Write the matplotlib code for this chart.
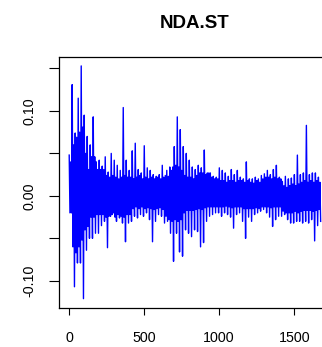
import numpy as np
import matplotlib
matplotlib.use("Agg")
import matplotlib.pyplot as plt

plt.rcParams['font.family'] = ['Liberation Sans', 'DejaVu Sans']

title = "NDA.ST"

# daily returns, read off the chart every ~20 observations:
# the extreme high / low swing in each block and the dense core band
upper = [0.048, 0.131, 0.074, 0.115, 0.153, 0.095, 0.070, 0.060, 0.093, 0.040,
         0.042, 0.035, 0.046, 0.028, 0.050, 0.042, 0.036, 0.030, 0.104, 0.042,
         0.030, 0.053, 0.062, 0.031, 0.027, 0.059, 0.033, 0.030, 0.025, 0.023,
         0.025, 0.036, 0.024, 0.023, 0.030, 0.058, 0.093, 0.078, 0.058, 0.050,
         0.042, 0.034, 0.031, 0.036, 0.033, 0.054, 0.027, 0.027, 0.023, 0.022,
         0.033, 0.030, 0.027, 0.023, 0.031, 0.025, 0.030, 0.022, 0.020, 0.040,
         0.020, 0.020, 0.022, 0.020, 0.024, 0.026, 0.030, 0.025, 0.031, 0.036,
         0.022, 0.017, 0.023, 0.020, 0.021, 0.025, 0.048, 0.025, 0.027, 0.083,
         0.025, 0.027, 0.027, 0.022]
lower = [-0.020, -0.107, -0.079, -0.079, -0.121, -0.064, -0.050, -0.050, -0.044, -0.044,
         -0.035, -0.030, -0.061, -0.024, -0.020, -0.030, -0.026, -0.032, -0.054, -0.032,
         -0.030, -0.024, -0.026, -0.022, -0.024, -0.020, -0.028, -0.054, -0.030, -0.022,
         -0.024, -0.032, -0.030, -0.044, -0.077, -0.044, -0.066, -0.071, -0.040, -0.044,
         -0.048, -0.040, -0.042, -0.060, -0.055, -0.030, -0.024, -0.022, -0.020, -0.020,
         -0.024, -0.020, -0.022, -0.025, -0.038, -0.022, -0.020, -0.030, -0.050, -0.025,
         -0.030, -0.022, -0.020, -0.018, -0.016, -0.020, -0.025, -0.036, -0.028, -0.024,
         -0.024, -0.022, -0.028, -0.032, -0.032, -0.030, -0.030, -0.032, -0.030, -0.032,
         -0.028, -0.053, -0.035, -0.030]
core_hi = [0.040, 0.060, 0.069, 0.075, 0.081, 0.050, 0.031, 0.046, 0.046, 0.031,
           0.031, 0.031, 0.024, 0.022, 0.024, 0.022, 0.020, 0.022, 0.024, 0.022,
           0.022, 0.020, 0.022, 0.024, 0.020, 0.022, 0.020, 0.022, 0.020, 0.022,
           0.020, 0.022, 0.030, 0.034, 0.034, 0.036, 0.034, 0.030, 0.024, 0.022,
           0.022, 0.020, 0.024, 0.027, 0.027, 0.025, 0.027, 0.022, 0.020, 0.020,
           0.018, 0.018, 0.016, 0.018, 0.018, 0.016, 0.018, 0.018, 0.016, 0.018,
           0.016, 0.015, 0.018, 0.016, 0.020, 0.022, 0.022, 0.020, 0.022, 0.020,
           0.020, 0.012, 0.010, 0.012, 0.014, 0.012, 0.014, 0.016, 0.018, 0.016,
           0.018, 0.016, 0.018, 0.016]
core_lo = [-0.020, -0.060, -0.067, -0.060, -0.052, -0.040, -0.036, -0.025, -0.025, -0.022,
           -0.022, -0.022, -0.025, -0.024, -0.022, -0.025, -0.022, -0.024, -0.025, -0.022,
           -0.022, -0.015, -0.013, -0.015, -0.013, -0.015, -0.014, -0.015, -0.016, -0.015,
           -0.014, -0.016, -0.024, -0.028, -0.030, -0.028, -0.030, -0.028, -0.020, -0.017,
           -0.017, -0.017, -0.016, -0.015, -0.016, -0.014, -0.013, -0.013, -0.013, -0.013,
           -0.013, -0.013, -0.012, -0.013, -0.014, -0.013, -0.013, -0.013, -0.015, -0.015,
           -0.015, -0.015, -0.014, -0.015, -0.013, -0.013, -0.013, -0.014, -0.013, -0.013,
           -0.013, -0.018, -0.020, -0.020, -0.020, -0.018, -0.020, -0.018, -0.017, -0.017,
           -0.017, -0.018, -0.017, -0.016]
step = 20

# one block = high, core low, core high, low
values = np.column_stack([upper, core_lo, core_hi, lower]).ravel()
index = 1 + np.arange(len(values)) * step / 4

fig = plt.figure(figsize=(3.22, 3.47), dpi=100)
ax = fig.add_axes([59 / 322, 39 / 347, 272 / 322, 251 / 347])
ax.plot(index, values, color='#0000FF', lw=1.0)

ax.set_xlim(-67, 1745)
ax.set_ylim(-0.132, 0.1635)
ax.set_xticks([0, 500, 1000, 1500])
ax.set_yticks([-0.10, -0.05, 0.00, 0.05, 0.10, 0.15])
ax.set_yticklabels(['-0.10', '', '0.00', '', '0.10', ''], rotation=90, va='center')
ax.tick_params(axis='x', length=4.8, width=0.8, pad=12, labelsize=10.3)
ax.tick_params(axis='y', length=7, width=0.8, pad=9, labelsize=10.3)
for s in ax.spines.values():
    s.set_linewidth(0.9)

ax.set_title(title, fontsize=13.5, fontweight='bold', pad=21)

fig.savefig('out.png', dpi=100)
